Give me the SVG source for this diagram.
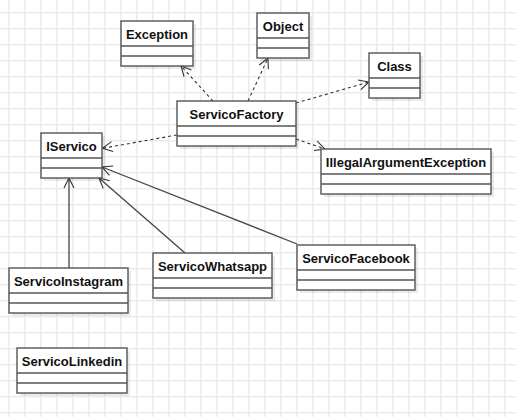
<svg xmlns="http://www.w3.org/2000/svg" width="516" height="417" viewBox="0 0 516 417">
<defs>
<pattern id="grid" patternUnits="userSpaceOnUse" x="0" y="0" width="16" height="16">
<path d="M8.7,0 V16 M0,12.7 H16" stroke="#ebebeb" stroke-width="1.6" fill="none"/>
</pattern>
<marker id="open" viewBox="0 0 12 12" refX="11" refY="6" markerWidth="12" markerHeight="12" markerUnits="userSpaceOnUse" orient="auto">
<path d="M1,1 L11,6 L1,11" fill="none" stroke="#333" stroke-width="1.1"/>
</marker>
</defs>
<style>
.box{fill:#fff;stroke:#555;stroke-width:1.4}
.sh{fill:#000;opacity:0.08}
.div{stroke:#555;stroke-width:1.4}
.t{font-family:"Liberation Sans",Arial,sans-serif;font-size:13px;font-weight:bold;fill:#111;text-anchor:middle}
.dep{stroke:#333;stroke-width:1.1;stroke-dasharray:3,3;fill:none;marker-end:url(#open)}
.real{stroke:#444;stroke-width:1.3;fill:none;marker-end:url(#open)}
</style>
<rect width="516" height="417" fill="#fff"/>
<rect width="516" height="417" fill="url(#grid)"/>

<g id="connectors">
<path class="dep" d="M213,101 L181,66"/>
<path class="dep" d="M248,101 L268,58"/>
<path class="dep" d="M296,103 L369,82"/>
<path class="dep" d="M296,139 L325,149"/>
<path class="dep" d="M177,135 L102.5,148.3"/>
<path class="real" d="M69,268 L69,178"/>
<path class="real" d="M185,253 L99,178"/>
<path class="real" d="M297,244 L102,167"/>
</g>

<g id="Exception">
<rect class="sh" x="124" y="24" width="72" height="45"/>
<rect class="box" x="121" y="21" width="72" height="45"/>
<path class="div" d="M121,46 H193 M121,56 H193"/>
<text class="t" x="157" y="38.5">Exception</text>
</g>

<g id="Object">
<rect class="sh" x="260" y="16" width="52" height="45"/>
<rect class="box" x="257" y="13" width="52" height="45"/>
<path class="div" d="M257,38 H309 M257,48 H309"/>
<text class="t" x="283" y="30.5">Object</text>
</g>

<g id="Class">
<rect class="sh" x="372" y="56" width="51" height="45"/>
<rect class="box" x="369" y="53" width="51" height="45"/>
<path class="div" d="M369,78 H420 M369,88 H420"/>
<text class="t" x="394.5" y="70.5">Class</text>
</g>

<g id="ServicoFactory">
<rect class="sh" x="180" y="104" width="119" height="45"/>
<rect class="box" x="177" y="101" width="119" height="45"/>
<path class="div" d="M177,126 H296 M177,136 H296"/>
<text class="t" x="236.5" y="118.5">ServicoFactory</text>
</g>

<g id="IServico">
<rect class="sh" x="44" y="136" width="61" height="45"/>
<rect class="box" x="41" y="133" width="61" height="45"/>
<path class="div" d="M41,158 H102 M41,168 H102"/>
<text class="t" x="71.5" y="150.5">IServico</text>
</g>

<g id="IllegalArgumentException">
<rect class="sh" x="324" y="152" width="170" height="45"/>
<rect class="box" x="321" y="149" width="170" height="45"/>
<path class="div" d="M321,174 H491 M321,184 H491"/>
<text class="t" x="406" y="166.5">IllegalArgumentException</text>
</g>

<g id="ServicoInstagram">
<rect class="sh" x="12" y="271" width="119" height="45"/>
<rect class="box" x="9" y="268" width="119" height="45"/>
<path class="div" d="M9,293 H128 M9,303 H128"/>
<text class="t" x="68.5" y="285.5">ServicoInstagram</text>
</g>

<g id="ServicoWhatsapp">
<rect class="sh" x="156" y="256" width="119" height="45"/>
<rect class="box" x="153" y="253" width="119" height="45"/>
<path class="div" d="M153,278 H272 M153,288 H272"/>
<text class="t" x="212.5" y="270.5">ServicoWhatsapp</text>
</g>

<g id="ServicoFacebook">
<rect class="sh" x="300" y="248" width="118" height="45"/>
<rect class="box" x="297" y="245" width="118" height="45"/>
<path class="div" d="M297,270 H415 M297,280 H415"/>
<text class="t" x="356" y="262.5">ServicoFacebook</text>
</g>

<g id="ServicoLinkedin">
<rect class="sh" x="20" y="351" width="110" height="45"/>
<rect class="box" x="17" y="348" width="110" height="45"/>
<path class="div" d="M17,373 H127 M17,383 H127"/>
<text class="t" x="72" y="365.5">ServicoLinkedin</text>
</g>
</svg>
